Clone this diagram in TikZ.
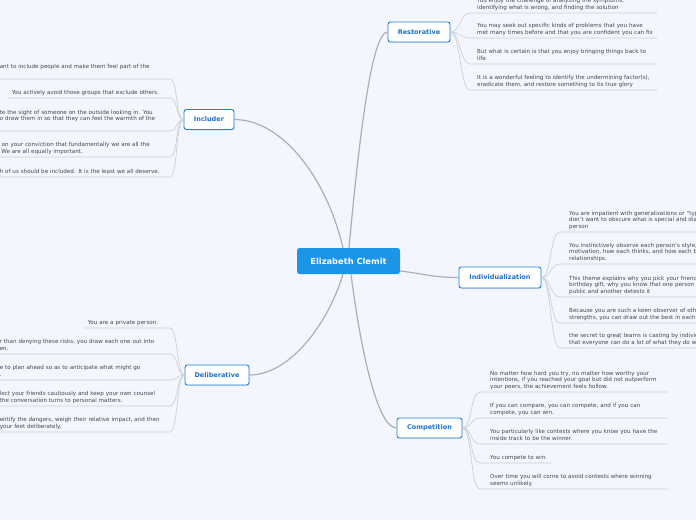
\documentclass[tikz,border=0pt]{standalone}
\usepackage{fontspec}
\setmainfont{DejaVu Sans}
\usetikzlibrary{shadows}
\definecolor{bgc}{HTML}{F3F6FE}
\definecolor{cfill}{HTML}{1B96E6}
\definecolor{mborder}{HTML}{1F80E0}
\definecolor{mtext}{HTML}{1A73D0}
\definecolor{connc}{HTML}{AFAFAF}
\definecolor{leafc}{HTML}{D0D0D0}
\definecolor{leaftext}{HTML}{474747}
\newcommand{\lfr}[1]{\mbox{#1\strut}}
\begin{document}
\begin{tikzpicture}[x=1pt,y=-1pt,
  centerbox/.style={fill=cfill, rounded corners=2.5pt, text=white,
    font=\bfseries\fontsize{8.3}{10}\selectfont, minimum width=103pt,
    minimum height=26pt, inner sep=0pt},
  topic/.style={draw=mborder, line width=0.9pt, fill=white, rounded corners=2.5pt,
    text=mtext, font=\bfseries\fontsize{6.5}{8}\selectfont, minimum height=20pt,
    inner sep=0pt, drop shadow={shadow xshift=0.4pt, shadow yshift=-0.8pt, opacity=0.25}},
  leaf/.style={text=leaftext, font=\fontsize{5.6}{6.5}\selectfont, align=left,
    inner ysep=1.5pt, text width=#1},
  conn/.style={draw=connc, line width=1.2pt},
  lconn/.style={draw=leafc, line width=0.7pt}
]
\useasboundingbox (0,0) rectangle (696,520);
\fill[bgc] (0,0) rectangle (696,520);
\clip (0,0) rectangle (696,520);

% central and topic nodes
\node[centerbox] (c) at (348.5,261) {Elizabeth Clemit};
\node[topic, minimum width=62pt] (R) at (419,32) {Restorative};
\node[topic, minimum width=50pt] (I) at (209,119.5) {Includer};
\node[topic, minimum width=82pt, minimum height=21pt] (E) at (500,277.5) {Individualization};
\node[topic, minimum width=64pt] (D) at (217,375) {Deliberative};
\node[topic, minimum width=65pt] (K) at (429.5,428) {Competition};

% main connectors
\draw[conn] ([xshift=-5.5pt]c.north) .. controls +(-18,-75) and +(45,0) .. (I.east);
\draw[conn] ([xshift=0.5pt]c.north) .. controls +(10,-108) and +(-16,0) .. (R.west);
\draw[conn] ([yshift=-10pt]c.east) .. controls +(25,3) and +(-25,0) .. (E.west);
\draw[conn] ([xshift=-5.5pt]c.south) .. controls +(-15,50) and +(40,0) .. (D.east);
\draw[conn] ([xshift=2.5pt]c.south) .. controls +(11,85) and +(-18,0) .. (K.west);

% Restorative leaves
\begin{scope}[every node/.append style={inner xsep=7pt}]
\node[leaf=173pt, anchor=south west] (r1) at (470,13) {\lfr{You enjoy the challenge of analyzing the symptoms,}\\\lfr{identifying what is wrong, and finding the solution}};
\node[leaf=173pt, anchor=south west] (r2) at (470,38) {\lfr{You may seek out specific kinds of problems that you have}\\\lfr{met many times before and that you are confident you can fix}};
\node[leaf=173pt, anchor=south west] (r3) at (470,64) {\lfr{But what is certain is that you enjoy bringing things back to}\\\lfr{life}};
\node[leaf=173pt, anchor=south west] (r4) at (470,90) {\lfr{It is a wonderful feeling to identify the undermining factor(s),}\\\lfr{eradicate them, and restore something to its true glory}};
\end{scope}
\foreach \n in {r1,r2,r3,r4}
  \draw[lconn] (R.east) .. controls +(10,0) and +(-10,0) .. (\n.south west) -- (\n.south east);

% Individualization leaves
\begin{scope}[every node/.append style={inner xsep=9pt}]
\node[leaf=120pt, anchor=south west] (e1) at (560,232) {\lfr{You are impatient with generalizations or “typ}\\\lfr{don't want to obscure what is special and dist}\\\lfr{person}};
\node[leaf=120pt, anchor=south west] (e2) at (560,264) {\lfr{You instinctively observe each person's style,}\\\lfr{motivation, how each thinks, and how each be}\\\lfr{relationships.}};
\node[leaf=120pt, anchor=south west] (e3) at (560,297) {\lfr{This theme explains why you pick your friends}\\\lfr{birthday gift, why you know that one person p}\\\lfr{public and another detests it}};
\node[leaf=120pt, anchor=south west] (e4) at (560,323) {\lfr{Because you are such a keen observer of othe}\\\lfr{strengths, you can draw out the best in each p}};
\node[leaf=120pt, anchor=south west] (e5) at (560,348) {\lfr{the secret to great teams is casting by individ}\\\lfr{that everyone can do a lot of what they do we}};
\end{scope}
\foreach \n in {e1,e2,e3,e4,e5}
  \draw[lconn] (E.east) .. controls +(10,0) and +(-10,0) .. (\n.south west) -- (\n.south east);

% Competition leaves
\begin{scope}[every node/.append style={inner xsep=10pt}]
\node[leaf=168pt, anchor=south west] (k1) at (480,392) {\lfr{No matter how hard you try, no matter how worthy your}\\\lfr{intentions, if you reached your goal but did not outperform}\\\lfr{your peers, the achievement feels hollow.}};
\node[leaf=168pt, anchor=south west] (k2) at (480,418) {\lfr{If you can compare, you can compete, and if you can}\\\lfr{compete, you can win.}};
\node[leaf=168pt, anchor=south west] (k3) at (480,444) {\lfr{You particularly like contests where you know you have the}\\\lfr{inside track to be the winner.}};
\node[leaf=51pt, anchor=south west] (k4) at (480,463) {\lfr{You compete to win.}};
\node[leaf=168pt, anchor=south west] (k5) at (480,489) {\lfr{Over time you will come to avoid contests where winning}\\\lfr{seems unlikely.}};
\end{scope}
\foreach \n in {k1,k2,k3,k4,k5}
  \draw[lconn] (K.east) .. controls +(10,0) and +(-10,0) .. (\n.south west) -- (\n.south east);

% Includer leaves
\begin{scope}[every node/.append style={inner xsep=6pt}]
\node[leaf=164pt, anchor=south east] (i1) at (170,79) {\lfr{ant to include people and make them feel part of the}\\\lfr{}};
\node[leaf=154pt, anchor=south east, inner xsep=4pt] (i2) at (170,98) {\lfr{You actively avoid those groups that exclude others.}};
\node[leaf=164pt, anchor=south east] (i3) at (170,131) {\lfr{te the sight of someone on the outside looking in. You}\\\lfr{o draw them in so that they can feel the warmth of the}\\\lfr{}};
\node[leaf=164pt, anchor=south east] (i4) at (170,157) {\lfr{\hspace{2pt}on your conviction that fundamentally we are all the}\\\lfr{\hspace{1.5pt}We are all equally important.}};
\node[leaf=164pt, anchor=south east] (i5) at (170,177) {\lfr{h of us should be included. It is the least we all deserve.}};
\end{scope}
\foreach \n in {i1,i2,i3,i4,i5}
  \draw[lconn] (I.west) .. controls +(-8,0) and +(8,0) .. (\n.south east) -- (\n.south west);

% Deliberative leaves
\begin{scope}[every node/.append style={inner xsep=6pt}]
\node[leaf=78pt, anchor=south east, inner xsep=4pt] (d1) at (170,328) {\lfr{You are a private person.}};
\node[leaf=164pt, anchor=south east] (d2) at (170,354) {\lfr{r than denying these risks, you draw each one out into}\\\lfr{en.}};
\node[leaf=164pt, anchor=south east] (d3) at (170,380) {\lfr{e to plan ahead so as to anticipate what might go}\\\lfr{.}};
\node[leaf=164pt, anchor=south east] (d4) at (170,406) {\lfr{lect your friends cautiously and keep your own counsel}\\\lfr{the conversation turns to personal matters.}};
\node[leaf=164pt, anchor=south east] (d5) at (170,432) {\lfr{entify the dangers, weigh their relative impact, and then}\\\lfr{your feet deliberately.}};
\end{scope}
\foreach \n in {d1,d2,d3,d4,d5}
  \draw[lconn] (D.west) .. controls +(-8,0) and +(8,0) .. (\n.south east) -- (\n.south west);
\end{tikzpicture}
\end{document}
